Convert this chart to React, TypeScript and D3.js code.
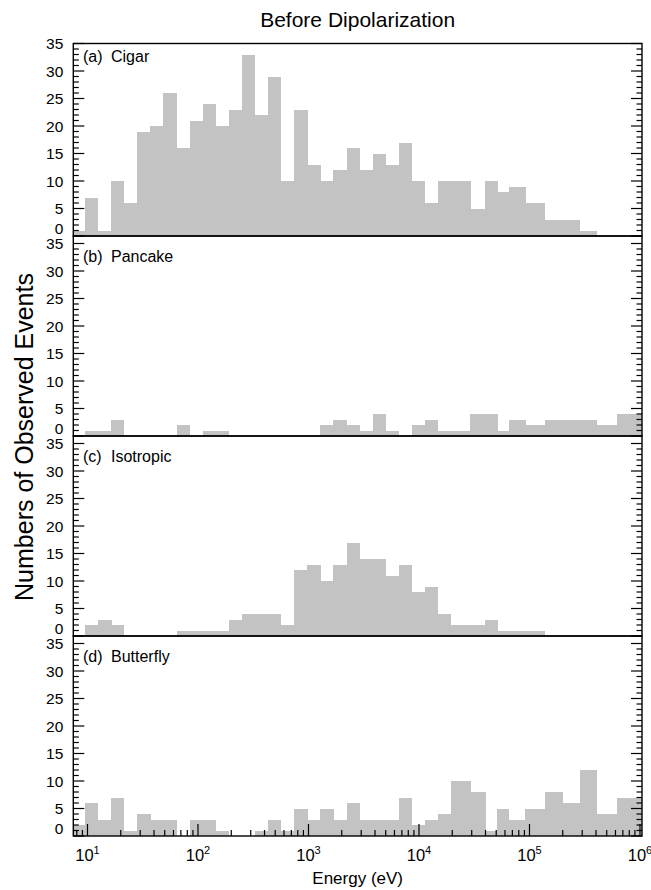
import { useEffect, useRef } from "react";
import * as d3 from "d3";

// energy bin edges (eV)
const binEdges = [
  7.24, 9.49, 12.47, 16.39, 21.48, 28.22, 37.09, 48.73, 64.02, 83.95, 110.3,
  144.9, 190.4, 250.2, 328.0, 430.1, 566.1, 743.8, 977.2, 1281, 1684, 2212,
  2906, 3818, 5006, 6578, 8644, 11360, 14920, 19560, 29130, 39980, 51330,
  65240, 92000, 137300, 199800, 286400, 405700, 615300, 1110000,
];

const cigar = [1, 7, 1, 10, 6, 19, 20, 26, 16, 21, 24, 20, 23, 33, 22, 29, 10, 23, 13, 10, 12, 16, 12, 15, 13, 17, 10, 6, 10, 10, 5, 10, 8, 9, 6, 3, 3, 1, 0, 0];
const pancake = [0, 1, 1, 3, 0, 0, 0, 0, 2, 0, 1, 1, 0, 0, 0, 0, 0, 0, 0, 2, 3, 2, 1, 4, 1, 0, 2, 3, 1, 1, 4, 4, 1, 3, 2, 3, 3, 3, 2, 4];
const isotropic = [0, 2, 3, 2, 0, 0, 0, 0, 1, 1, 1, 1, 3, 4, 4, 4, 2, 12, 13, 10, 13, 17, 14, 14, 11, 13, 8, 9, 4, 2, 2, 3, 1, 1, 1, 0, 0, 0, 0, 0];
const butterfly = [2, 6, 3, 7, 1, 4, 3, 3, 0, 3, 3, 1, 0, 0, 1, 3, 1, 5, 3, 5, 3, 6, 3, 3, 3, 7, 2, 3, 4, 10, 8, 1, 5, 3, 5, 8, 6, 12, 4, 7];

const panelTags = ["(a)", "(b)", "(c)", "(d)"];
const panelNames = ["Cigar", "Pancake", "Isotropic", "Butterfly"];
const yTicks = [0, 5, 10, 15, 20, 25, 30, 35];
const decades = [1, 2, 3, 4, 5, 6];

const W = 651;
const H = 890;
const FONT = "'Liberation Sans', Arial, Helvetica, sans-serif";

const App = () => {
  const svgRef = useRef<SVGSVGElement>(null);

  useEffect(() => {
    if (!svgRef.current) return;
    const svg = d3.select(svgRef.current);
    svg.selectAll("*").remove();

    const left = 73.3;
    const right = 642;
    const x = d3.scaleLog().domain([7.44, 1.043e6]).range([left, right]);
    const series = [cigar, pancake, isotropic, butterfly];
    const bottoms = [236, 436, 636, 836];

    series.forEach((vals, p) => {
      const bottom = bottoms[p];
      const top = p === 0 ? 43.5 : bottom - 200;
      const y = d3.scaleLinear().domain([0, 35]).range([bottom, bottom - 192.5]);
      const g = svg.append("g");

      // bars
      const bins = vals.map((v, i) => ({ v, e0: binEdges[i], e1: binEdges[i + 1] }));
      g.selectAll("rect.bar")
        .data(bins.filter((d) => d.v > 0))
        .enter()
        .append("rect")
        .attr("class", "bar")
        .attr("x", (d) => Math.max(left, x(d.e0)))
        .attr("width", (d) => Math.min(right, x(d.e1)) - Math.max(left, x(d.e0)) + 0.3)
        .attr("y", (d) => y(d.v))
        .attr("height", (d) => bottom - y(d.v))
        .attr("fill", "#c3c3c3")
        .attr("shape-rendering", "crispEdges");

      // y ticks both sides
      d3.range(0, 36).forEach((t) => {
        const len = t % 5 === 0 ? 11 : 5.5;
        g.append("line").attr("x1", left).attr("x2", left + len)
          .attr("y1", y(t)).attr("y2", y(t)).attr("stroke", "#000").attr("stroke-width", 1.2);
        g.append("line").attr("x1", right).attr("x2", right - len)
          .attr("y1", y(t)).attr("y2", y(t)).attr("stroke", "#000").attr("stroke-width", 1.2);
      });

      g.selectAll("text.ylab")
        .data(yTicks)
        .enter()
        .append("text")
        .attr("class", "ylab")
        .attr("x", left - 10)
        .attr("y", (d) => (d === 0 ? bottom - 2 : y(d) + 5.6))
        .attr("text-anchor", "end")
        .attr("font-family", FONT)
        .attr("font-size", 15.5)
        .text((d) => d);

      // panel label
      g.append("text")
        .attr("x", 83)
        .attr("y", y(35) + 18)
        .attr("font-family", FONT)
        .attr("font-size", 16)
        .text(panelTags[p]);
      g.append("text")
        .attr("x", 111)
        .attr("y", y(35) + 18)
        .attr("font-family", FONT)
        .attr("font-size", 16)
        .text(panelNames[p]);

      // x ticks only on the bottom panel
      if (p === series.length - 1) {
        const ticks = x.ticks().filter((t) => t >= 7.44 && t <= 1.043e6);
        ticks.forEach((t) => {
          const major = Math.abs(Math.log10(t) - Math.round(Math.log10(t))) < 1e-6;
          g.append("line")
            .attr("x1", x(t)).attr("x2", x(t))
            .attr("y1", bottom).attr("y2", bottom - (major ? 12 : 6))
            .attr("stroke", "#000").attr("stroke-width", 1.2);
        });
        decades.forEach((d) => {
          const t = g.append("text")
            .attr("x", x(Math.pow(10, d)))
            .attr("y", bottom + 25)
            .attr("text-anchor", "middle")
            .attr("font-family", FONT)
            .attr("font-size", 16.5);
          t.append("tspan").text("10");
          t.append("tspan").attr("dy", -7).attr("font-size", 11).text(d);
        });
      }

      // frame
      g.append("rect")
        .attr("x", left).attr("y", top)
        .attr("width", right - left).attr("height", bottom - top)
        .attr("fill", "none").attr("stroke", "#000").attr("stroke-width", 1.4);
    });

    svg.append("text")
      .attr("x", (left + right) / 2)
      .attr("y", 27)
      .attr("text-anchor", "middle")
      .attr("font-family", FONT)
      .attr("font-size", 21)
      .text("Before Dipolarization");

    svg.append("text")
      .attr("x", (left + right) / 2)
      .attr("y", 884)
      .attr("text-anchor", "middle")
      .attr("font-family", FONT)
      .attr("font-size", 17)
      .text("Energy (eV)");

    svg.append("text")
      .attr("transform", "translate(33, 437) rotate(-90)")
      .attr("text-anchor", "middle")
      .attr("font-family", FONT)
      .attr("font-size", 25)
      .text("Numbers of Observed Events");
  }, []);

  return (
    <div style={{ position: "absolute", left: 0, top: 0 }}>
      <svg ref={svgRef} width={W} height={H} style={{ display: "block", background: "#fff" }} />
    </div>
  );
};

export default App;
